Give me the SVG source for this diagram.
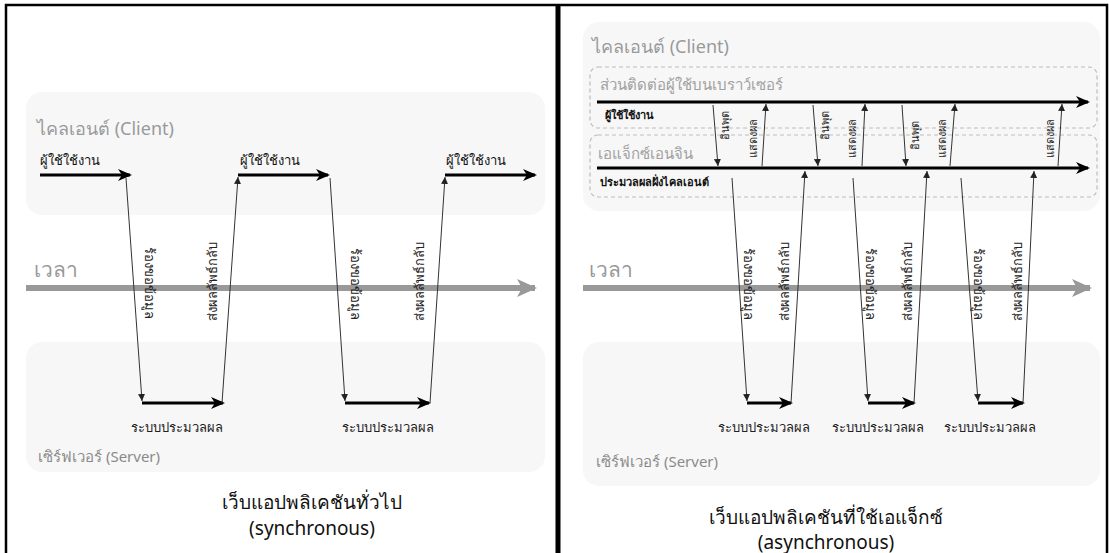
<svg xmlns="http://www.w3.org/2000/svg" width="1109" height="553" viewBox="0 0 1109 553">
  <style>
    text { font-family: "Noto Sans", "DejaVu Sans", sans-serif; }
    .lane { fill: #f7f7f7; stroke: none; }
    .sub { fill: none; stroke: #bdbdbd; stroke-width: 1.2; stroke-dasharray: 4 3; }
    .lane-title { fill: #9a9a9a; font-size: 18px; }
    .srv-title { fill: #8a8a8a; font-size: 15px; }
    .sub-title { fill: #a0a0a0; font-size: 15px; }
    .act { fill: #111; font-size: 13px; }
    .act-b { fill: #111; font-size: 11px; font-weight: bold; }
    .msg { fill: #222; font-size: 13px; }
    .ev { fill: #222; font-size: 11px; }
    .time { fill: #999; font-size: 21px; }
    .cap { fill: #111; font-size: 19px; text-anchor: middle; }
    .thick { stroke: #000; stroke-width: 3; fill: none; marker-end: url(#bigHead); }
    .thin { stroke: #333; stroke-width: 1; fill: none; marker-end: url(#smallHead); }
    .axis { stroke: #999; stroke-width: 6; fill: none; marker-end: url(#axisHead); }
  </style>
  <defs>
    <marker id="bigHead" markerUnits="userSpaceOnUse" markerWidth="14" markerHeight="12" refX="12" refY="6" orient="auto">
      <path d="M0,0 L14,6 L0,12 L4,6 z" fill="#000"/>
    </marker>
    <marker id="smallHead" markerUnits="userSpaceOnUse" markerWidth="7" markerHeight="7" refX="7" refY="3.5" orient="auto">
      <path d="M0,0 L7,3.5 L0,7 z" fill="#222"/>
    </marker>
    <marker id="axisHead" markerUnits="userSpaceOnUse" markerWidth="20" markerHeight="18" refX="18" refY="9" orient="auto">
      <path d="M0,0 L20,9 L0,18 L5,9 z" fill="#999"/>
    </marker>
  </defs>

  <rect x="0" y="0" width="1109" height="553" fill="#fff"/>

  <!-- frame and panel divider -->
  <g id="frame">
    <rect x="6" y="5" width="1101" height="552" fill="none" stroke="#000" stroke-width="2.5"/>
    <line x1="558" y1="5" x2="558" y2="553" stroke="#000" stroke-width="5"/>
  </g>

  <!-- ===== synchronous panel ===== -->
  <g id="sync-client">
    <rect class="lane" x="26" y="92" width="519" height="123" rx="16"/>
    <text class="lane-title" x="37" y="135">ไคลเอนต์ (Client)</text>
    <text class="act" x="40" y="165">ผู้ใช้ใช้งาน</text>
    <text class="act" x="240" y="165">ผู้ใช้ใช้งาน</text>
    <text class="act" x="446" y="165">ผู้ใช้ใช้งาน</text>
  </g>
  <g id="sync-time">
    <text class="time" x="34" y="277">เวลา</text>
  </g>
  <g id="sync-server">
    <rect class="lane" x="26" y="342" width="519" height="130" rx="16"/>
    <text class="srv-title" x="38" y="462">เซิร์ฟเวอร์ (Server)</text>
    <text class="msg" x="177" y="432" text-anchor="middle">ระบบประมวลผล</text>
    <text class="msg" x="388" y="432" text-anchor="middle">ระบบประมวลผล</text>
  </g>
  <g id="sync-caption">
    <text class="cap" x="312" y="509">เว็บแอปพลิเคชันทั่วไป</text>
    <text class="cap" x="312" y="535">(synchronous)</text>
  </g>

  <g id="sync-connectors">
    <line class="axis" x1="26" y1="288" x2="535" y2="288"/>
    <line class="thick" x1="40" y1="175" x2="130" y2="175"/>
    <line class="thick" x1="238" y1="175" x2="328" y2="175"/>
    <line class="thick" x1="445" y1="175" x2="535" y2="175"/>
    <line class="thick" x1="142" y1="403" x2="223" y2="403"/>
    <line class="thick" x1="345" y1="403" x2="429" y2="403"/>
    <line class="thin" x1="126" y1="178" x2="142" y2="401"/>
    <line class="thin" x1="222" y1="403" x2="238" y2="177"/>
    <line class="thin" x1="330" y1="178" x2="345" y2="401"/>
    <line class="thin" x1="430" y1="403" x2="445" y2="177"/>
    <text class="msg" transform="translate(149,283) rotate(90)" text-anchor="middle" dy="4">ร้องขอข้อมูล</text>
    <text class="msg" transform="translate(213,281) rotate(-90)" text-anchor="middle" dy="4">ส่งผลลัพธ์กลับ</text>
    <text class="msg" transform="translate(355,284) rotate(90)" text-anchor="middle" dy="4">ร้องขอข้อมูล</text>
    <text class="msg" transform="translate(420,281) rotate(-90)" text-anchor="middle" dy="4">ส่งผลลัพธ์กลับ</text>
  </g>

  <!-- ===== asynchronous panel ===== -->
  <g id="async-client">
    <rect class="lane" x="583" y="22" width="517" height="189" rx="16"/>
    <text class="lane-title" x="592" y="53">ไคลเอนต์ (Client)</text>
  </g>
  <g id="async-ui">
    <rect class="sub" x="590" y="67" width="507" height="61" rx="8"/>
    <text class="sub-title" x="600" y="90">ส่วนติดต่อผู้ใช้บนเบราว์เซอร์</text>
    <text class="act-b" x="605" y="119">ผู้ใช้ใช้งาน</text>
  </g>
  <g id="async-engine">
    <rect class="sub" x="590" y="135" width="507" height="62" rx="8"/>
    <text class="sub-title" x="598" y="159">เอแจ็กซ์เอนจิน</text>
    <text class="act-b" x="600" y="186">ประมวลผลฝั่งไคลเอนต์</text>
  </g>
  <g id="async-time">
    <text class="time" x="589" y="277">เวลา</text>
  </g>
  <g id="async-server">
    <rect class="lane" x="583" y="342" width="517" height="144" rx="16"/>
    <text class="srv-title" x="596" y="467">เซิร์ฟเวอร์ (Server)</text>
    <text class="msg" x="764" y="432" text-anchor="middle">ระบบประมวลผล</text>
    <text class="msg" x="878" y="432" text-anchor="middle">ระบบประมวลผล</text>
    <text class="msg" x="990" y="432" text-anchor="middle">ระบบประมวลผล</text>
  </g>
  <g id="async-caption">
    <text class="cap" x="826" y="524">เว็บแอปพลิเคชันที่ใช้เอแจ็กซ์</text>
    <text class="cap" x="826" y="549">(asynchronous)</text>
  </g>

  <g id="async-connectors">
    <line class="axis" x1="583" y1="288" x2="1090" y2="288"/>
    <line class="thick" x1="597" y1="102" x2="1088" y2="102"/>
    <line class="thick" x1="597" y1="168" x2="1088" y2="168"/>
    <!-- user input / display events -->
    <line class="thin" x1="713" y1="105" x2="718" y2="166"/>
    <line class="thin" x1="813" y1="105" x2="818" y2="166"/>
    <line class="thin" x1="902" y1="105" x2="906" y2="166"/>
    <line class="thin" x1="762" y1="166" x2="766" y2="104"/>
    <line class="thin" x1="862" y1="166" x2="865" y2="104"/>
    <line class="thin" x1="950" y1="166" x2="955" y2="104"/>
    <line class="thin" x1="1058" y1="166" x2="1062" y2="104"/>
    <text class="ev" transform="translate(725,125) rotate(-90)" text-anchor="middle" dy="4">อินพุต</text>
    <text class="ev" transform="translate(825,125) rotate(-90)" text-anchor="middle" dy="4">อินพุต</text>
    <text class="ev" transform="translate(915,135) rotate(-90)" text-anchor="middle" dy="4">อินพุต</text>
    <text class="ev" transform="translate(753,138) rotate(-90)" text-anchor="middle" dy="4">แสดงผล</text>
    <text class="ev" transform="translate(852,138) rotate(-90)" text-anchor="middle" dy="4">แสดงผล</text>
    <text class="ev" transform="translate(942,138) rotate(-90)" text-anchor="middle" dy="4">แสดงผล</text>
    <text class="ev" transform="translate(1050,138) rotate(-90)" text-anchor="middle" dy="4">แสดงผล</text>
    <!-- server round trips -->
    <line class="thick" x1="747" y1="403" x2="791" y2="403"/>
    <line class="thick" x1="868" y1="403" x2="914" y2="403"/>
    <line class="thick" x1="978" y1="403" x2="1023" y2="403"/>
    <line class="thin" x1="732" y1="178" x2="747" y2="401"/>
    <line class="thin" x1="791" y1="403" x2="805" y2="171"/>
    <line class="thin" x1="853" y1="178" x2="868" y2="401"/>
    <line class="thin" x1="914" y1="403" x2="927" y2="171"/>
    <line class="thin" x1="961" y1="178" x2="978" y2="401"/>
    <line class="thin" x1="1023" y1="403" x2="1034" y2="171"/>
    <text class="msg" transform="translate(748,284) rotate(90)" text-anchor="middle" dy="4">ร้องขอข้อมูล</text>
    <text class="msg" transform="translate(785,281) rotate(-90)" text-anchor="middle" dy="4">ส่งผลลัพธ์กลับ</text>
    <text class="msg" transform="translate(870,284) rotate(90)" text-anchor="middle" dy="4">ร้องขอข้อมูล</text>
    <text class="msg" transform="translate(908,281) rotate(-90)" text-anchor="middle" dy="4">ส่งผลลัพธ์กลับ</text>
    <text class="msg" transform="translate(978,284) rotate(90)" text-anchor="middle" dy="4">ร้องขอข้อมูล</text>
    <text class="msg" transform="translate(1018,281) rotate(-90)" text-anchor="middle" dy="4">ส่งผลลัพธ์กลับ</text>
  </g>
</svg>
